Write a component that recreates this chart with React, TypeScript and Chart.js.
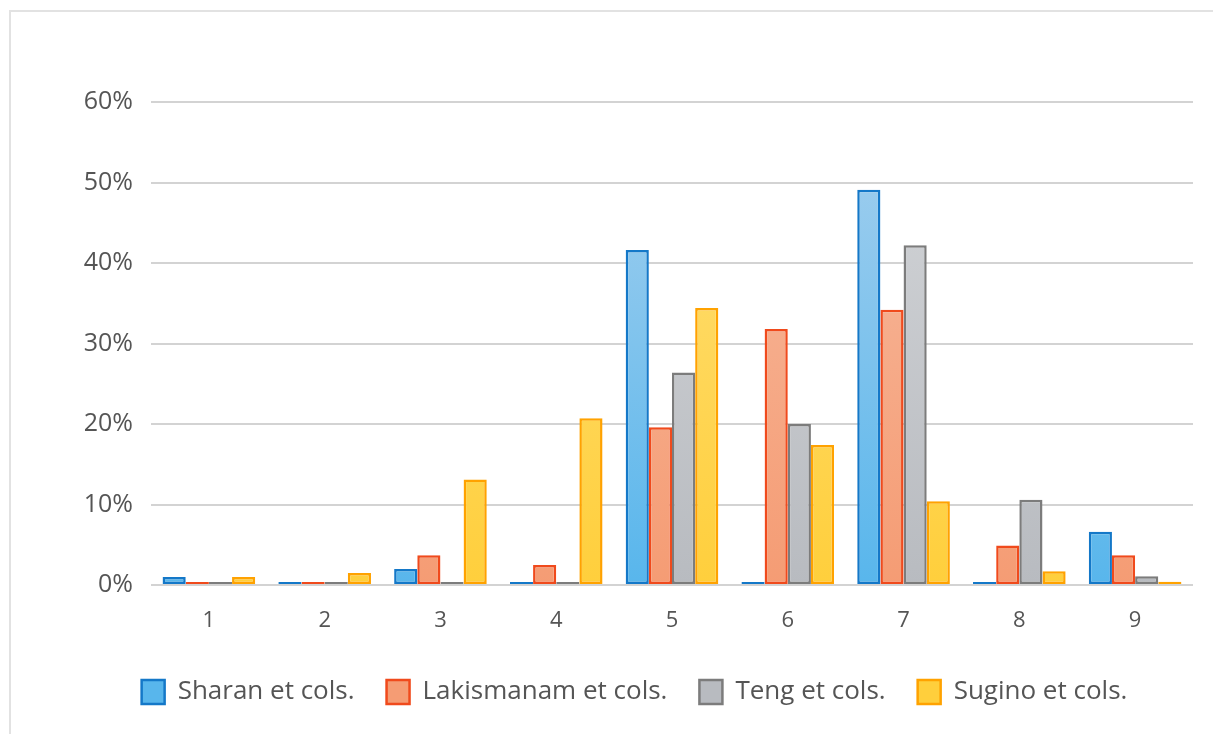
import React, { useEffect, useRef } from "react";
import { Chart, registerables } from "chart.js";

Chart.register(...registerables);

const categories = ["1", "2", "3", "4", "5", "6", "7", "8", "9"];
const seriesNames = ["Sharan et cols.", "Lakismanam et cols.", "Teng et cols.", "Sugino et cols."];
const sharan = [1.0, 0, 2.0, 0, 41.6, 0, 49.1, 0, 6.6];
const lakismanam = [0, 0, 3.7, 2.5, 19.6, 31.8, 34.2, 4.9, 3.7];
const teng = [0, 0, 0, 0, 26.4, 20.0, 42.2, 10.6, 1.1];
const sugino = [1.0, 1.5, 13.1, 20.7, 34.4, 17.4, 10.4, 1.7, 0.4];
const yTicks = [0, 10, 20, 30, 40, 50, 60];

const borders = ["#1478c8", "#f04a1c", "#7c7c7c", "#ffa200"];
const tops = ["#a6d0ee", "#f7bba0", "#d4d6d9", "#ffe07a"];
const bottoms = ["#58b6ec", "#f59c74", "#b8bbc0", "#ffcf3c"];

export default function App() {
  const ref = useRef<HTMLCanvasElement | null>(null);
  useEffect(() => {
    if (!ref.current) return;
    const font = "'Open Sans', 'DejaVu Sans', sans-serif";
    const mkBg = (i: number) => (ctx: any) => {
      const chart = ctx.chart;
      const area = chart.chartArea;
      if (!area) return bottoms[i];
      const g = chart.ctx.createLinearGradient(0, area.top, 0, area.bottom);
      g.addColorStop(0, tops[i]);
      g.addColorStop(1, bottoms[i]);
      return g;
    };
    const all = [sharan, lakismanam, teng, sugino];
    const chart = new Chart(ref.current, {
      type: "bar",
      data: {
        labels: categories,
        datasets: all.map((d, i) => ({
          label: seriesNames[i],
          data: d,
          backgroundColor: mkBg(i),
          borderColor: borders[i],
          borderWidth: 2.5,
          borderSkipped: false,
          minBarLength: 3,
          categoryPercentage: 0.8,
          barPercentage: 1.0,
        })),
      },
      options: {
        animation: false,
        responsive: false,
        maintainAspectRatio: false,
        layout: { padding: { top: 102, left: 76, right: 20, bottom: 19 } },
        plugins: {
          tooltip: { enabled: false },
          legend: {
            position: "bottom",
            labels: {
              boxWidth: 23,
              boxHeight: 24,
              padding: 32,
              color: "#555555",
              font: { family: font, size: 26 },
            },
          },
        },
        scales: {
          x: {
            grid: { display: false, drawTicks: false },
            border: { display: false },
            ticks: { color: "#555555", font: { family: font, size: 22 }, padding: 23 },
            afterFit: (s: any) => { s.height = 62; },
          },
          y: {
            min: 0,
            max: 60,
            afterBuildTicks: (s: any) => { s.ticks = yTicks.map((v) => ({ value: v })); },
            grid: { color: "#d3d3d3", lineWidth: 2, drawTicks: false },
            border: { display: false },
            ticks: {
              color: "#555555",
              font: { family: font, size: 25 },
              padding: 18,
              callback: (v: any) => v + "%",
            },
            afterFit: (s: any) => { s.width = 75; },
          },
        },
      },
    });
    return () => chart.destroy();
  }, []);
  return (
    <div style={{ position: "fixed", left: 0, top: 0, width: 1213, height: 734, background: "#fff" }}>
      <div style={{ position: "absolute", left: 9, top: 10, right: 0, bottom: 0, borderLeft: "2px solid #e2e2e2", borderTop: "2px solid #e2e2e2" }} />
      <canvas ref={ref} width={1213} height={734} style={{ position: "absolute", left: 0, top: 0, width: 1213, height: 734 }} />
    </div>
  );
}
